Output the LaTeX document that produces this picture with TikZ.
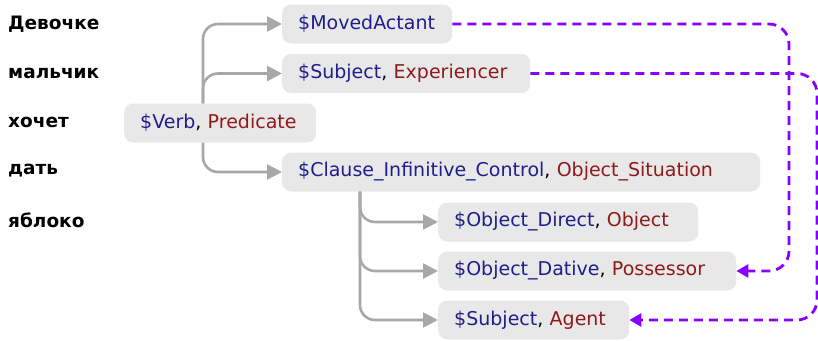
\documentclass[tikz,border=0pt]{standalone}
\usepackage{fontspec}
\setmainfont{DejaVu Sans}
\usetikzlibrary{arrows.meta}
\definecolor{boxfill}{HTML}{E8E8E8}
\definecolor{tblue}{HTML}{1E1E8C}
\definecolor{tred}{HTML}{8E1A1A}
\definecolor{lgray}{HTML}{A8A8A8}
\definecolor{vio}{HTML}{8A00FF}
\tikzset{
  role/.style={fill=boxfill, rounded corners=9pt, minimum height=39pt, inner xsep=16pt, anchor=west, align=left, text width=#1-32pt, font=\fontsize{19}{22}\selectfont},
  word/.style={anchor=west, font=\fontsize{18.5}{22}\selectfont\bfseries, inner sep=0pt},
  glink/.style={draw=lgray, line width=2.6pt, rounded corners=15pt, -{Triangle[length=15pt,width=15pt]}, color=lgray},
  vlink/.style={draw=vio, line width=2.8pt, dash pattern=on 9pt off 6pt, rounded corners=20pt, -{Triangle[length=12pt,width=13pt]}, color=vio},
}
\newcommand{\bl}[1]{\textcolor{tblue}{#1}}
\newcommand{\rd}[1]{\textcolor{tred}{#1}}
\begin{document}
\begin{tikzpicture}[x=1pt,y=-1pt]
\useasboundingbox (0,0) rectangle (818,340);
\node[word] (w1) at (8,24) {Девочке};
\node[word] (w2) at (8,73) {мальчик};
\node[word] (w3) at (8,122) {хочет};
\node[word] (w4) at (8,171) {дать};
\node[word] (w5) at (8,220) {яблоко};

\node[role=170pt] (moved) at (282,24) {\bl{\$MovedActant}};
\node[role=248pt] (subj) at (282,73.5) {\bl{\$Subject}, \rd{Experiencer}};
\node[role=192pt] (verb) at (124,123) {\bl{\$Verb}, \rd{Predicate}};
\node[role=478pt] (clause) at (282,172) {\bl{\$Clause\_Infinitive\_Control}, \rd{Object\_Situation}};
\node[role=260pt] (odir) at (438,222) {\bl{\$Object\_Direct}, \rd{Object}};
\node[role=298pt] (odat) at (438,271) {\bl{\$Object\_Dative}, \rd{Possessor}};
\node[role=191pt] (agent) at (438,320) {\bl{\$Subject}, \rd{Agent}};

\coordinate (vx) at (203,0);
\coordinate (cx) at (360,0);
\coordinate (p1) at (789,0);
\coordinate (p2) at (817,0);

\draw[glink] (verb.north -| vx) |- (moved.west);
\draw[glink] (verb.north -| vx) |- (subj.west);
\draw[glink] (verb.south -| vx) |- (clause.west);
\draw[glink] (clause.south -| cx) |- (odir.west);
\draw[glink] (clause.south -| cx) |- (odat.west);
\draw[glink] (clause.south -| cx) |- (agent.west);

\draw[vlink] (moved.east) -- (moved.east -| p1) -- (odat.east -| p1) -- (odat.east);
\draw[vlink] (subj.east) -- (subj.east -| p2) -- (agent.east -| p2) -- (agent.east);
\end{tikzpicture}
\end{document}
